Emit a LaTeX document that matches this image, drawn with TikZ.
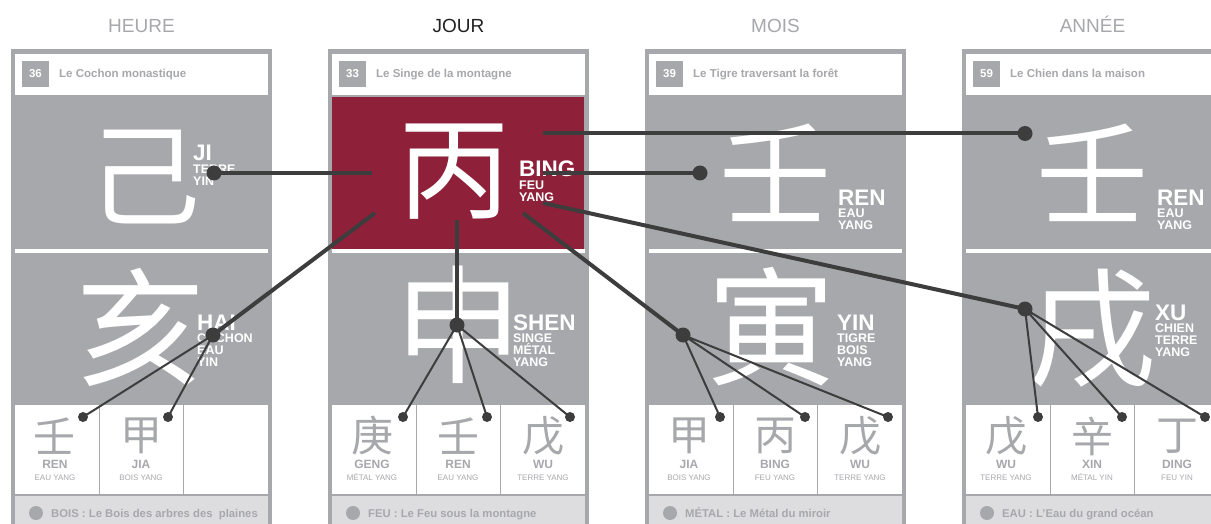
\documentclass[tikz,border=0pt]{standalone}
\usepackage{fontspec}
\setmainfont{Liberation Sans}
\newfontfamily\cjk{Noto Sans CJK SC}
\definecolor{cardgray}{HTML}{A7A8AB}
\definecolor{crimson}{HTML}{8E2139}
\definecolor{conn}{HTML}{3D3D3D}
\definecolor{barbg}{HTML}{DDDDDF}
\definecolor{ink}{HTML}{222222}
\tikzset{
 coltitle/.style={font=\fontsize{19}{19}\selectfont, text=cardgray, anchor=base, inner sep=0},
 numtext/.style={font=\bfseries\fontsize{11.5}{11.5}\selectfont, text=white, anchor=base, inner sep=0},
 titletext/.style={font=\bfseries\fontsize{11.5}{11.5}\selectfont, text=cardgray, anchor=base west, inner sep=0},
 bartext/.style={font=\bfseries\fontsize{11.3}{11.3}\selectfont, text=cardgray, anchor=base west, inner sep=0},
 bigchar/.style={font=\cjk\fontsize{128}{128}\selectfont, text=white, inner sep=0},
 stemchar/.style={font=\cjk\fontsize{112}{112}\selectfont, text=white, inner sep=0},
 labbig/.style={font=\bfseries\fontsize{22.5}{22.5}\selectfont, text=white, anchor=base west, inner sep=0},
 labsub/.style={font=\bfseries\fontsize{12.5}{12.5}\selectfont, text=white, anchor=base west, inner sep=0},
 hidchar/.style={font=\cjk\fontsize{42}{42}\selectfont, text=cardgray, inner sep=0},
 hidname/.style={font=\bfseries\fontsize{12}{12}\selectfont, text=cardgray, anchor=base, inner sep=0},
 hidsub/.style={font=\fontsize{8}{8}\selectfont, text=cardgray, anchor=base, inner sep=0},
 mainline/.style={draw=conn, line width=4pt},
 hidline/.style={draw=conn, line width=2pt},
 bigdot/.style={circle, fill=conn, inner sep=0, minimum size=15pt},
 smalldot/.style={circle, fill=conn, inner sep=0, minimum size=10pt},
}
\newcommand\drawcard[5]{%
 \fill[cardgray] (#1,49) rectangle (#1+261,540);
 \fill[white] (#1+4,54) rectangle (#1+257,95);
 \fill[white] (#1+4,249) rectangle (#1+257,253);
 \fill[white] (#1+4,405) rectangle (#1+257,494);
 \fill[barbg] (#1+4,496) rectangle (#1+257,540);
 \draw[cardgray, line width=1.5pt] (#1+88.3,405) -- (#1+88.3,494) (#1+172.7,405) -- (#1+172.7,494);
 \fill[cardgray] (#1+11,61) rectangle (#1+38,87);
 \node[numtext] (#2num) at (#1+24.5,78) {#3};
 \node[titletext] (#2title) at (#1+48,78) {#4};
 \fill[cardgray] (#1+25,513) circle (7pt);
 \node[bartext] (#2bar) at (#1+40,517) {#5};
}
\newcommand\hid[5]{% name, cx, char, name, sub
 \node[hidchar] (#1c) at (#2,436) {#3};
 \node[hidname] (#1n) at (#2,468) {#4};
 \node[hidsub] (#1s) at (#2,480) {#5};
}
\newcommand\labthree[6]{%
 \node[labbig] (#1) at (#2,#3) {#4};
 \node[labsub] (#1b) at (#2,#3+12.3) {#5};
 \node[labsub] (#1c) at (#2,#3+24.6) {#6};
}
\newcommand\labfour[7]{%
 \labthree{#1}{#2}{#3}{#4}{#5}{#6}
 \node[labsub] (#1d) at (#2,#3+36.9) {#7};
}
\begin{document}
\begin{tikzpicture}[x=1pt,y=-1pt]
\useasboundingbox (0,0) rectangle (1211,524);
\clip (0,0) rectangle (1211,524);
\fill[white] (0,0) rectangle (1211,524);
% column titles
\node[coltitle] (tH) at (141.5,33) {HEURE};
\node[coltitle, text=ink] (tJ) at (458.5,33) {JOUR};
\node[coltitle] (tM) at (775.5,33) {MOIS};
\node[coltitle] (tA) at (1092.5,33) {ANNÉE};
% cards
\drawcard{11}{c1}{36}{Le Cochon monastique}{BOIS : Le Bois des arbres des~ plaines}
\drawcard{328}{c2}{33}{Le Singe de la montagne}{FEU : Le Feu sous la montagne}
\drawcard{645}{c3}{39}{Le Tigre traversant la forêt}{MÉTAL : Le Métal du miroir}
\drawcard{962}{c4}{59}{Le Chien dans la maison}{EAU : L’Eau du grand océan}
\fill[crimson] (332,97) rectangle (584,249);
% big characters
\node[stemchar] (s1) at (144,177) {己};
\node[stemchar] (s2) at (454,172) {丙};
\node[stemchar] (s3) at (775,173) {壬};
\node[stemchar] (s4) at (1092,173) {壬};
\node[bigchar] (b1) at (140,327) {亥};
\node[bigchar] (b2) at (458,325) {申};
\node[bigchar] (b3) at (771,327) {寅};
\node[bigchar] (b4) at (1092,329) {戌};
% labels
\labthree{lJI}{193}{161}{JI}{TERRE}{YIN}
\labthree{lBING}{519}{177}{BING}{FEU}{YANG}
\labthree{lREN3}{838}{205}{REN}{EAU}{YANG}
\labthree{lREN4}{1157}{205}{REN}{EAU}{YANG}
\labfour{lHAI}{197}{330}{HAI}{COCHON}{EAU}{YIN}
\labfour{lSHEN}{513}{330}{SHEN}{SINGE}{MÉTAL}{YANG}
\labfour{lYIN}{837}{330}{YIN}{TIGRE}{BOIS}{YANG}
\labfour{lXU}{1155}{320}{XU}{CHIEN}{TERRE}{YANG}
% hidden stems
\hid{h1a}{55}{壬}{REN}{EAU YANG}
\hid{h1b}{141}{甲}{JIA}{BOIS YANG}
\hid{h2a}{372}{庚}{GENG}{MÉTAL YANG}
\hid{h2b}{458}{壬}{REN}{EAU YANG}
\hid{h2c}{543}{戊}{WU}{TERRE YANG}
\hid{h3a}{689}{甲}{JIA}{BOIS YANG}
\hid{h3b}{775}{丙}{BING}{FEU YANG}
\hid{h3c}{860}{戊}{WU}{TERRE YANG}
\hid{h4a}{1006}{戊}{WU}{TERRE YANG}
\hid{h4b}{1092}{辛}{XIN}{MÉTAL YIN}
\hid{h4c}{1177}{丁}{DING}{FEU YIN}
% connector points
\coordinate (eL) at (372,173);
\coordinate (eLL) at (375,213);
\coordinate (eB) at (457,220);
\coordinate (eRT) at (543,133.5);
\coordinate (eR) at (543,173);
\coordinate (eRY) at (543,203);
\coordinate (eRB) at (523,213);
\coordinate (pJI) at (214,173);
\coordinate (pHAI) at (213,335);
\coordinate (pSHEN) at (457,325);
\coordinate (pREN3) at (700,173);
\coordinate (pREN4) at (1025,133.5);
\coordinate (pYIN) at (683,335);
\coordinate (pXU) at (1025,309);
\coordinate (q1a) at (83,417);
\coordinate (q1b) at (168,417);
\coordinate (q2a) at (403,417);
\coordinate (q2b) at (487,417);
\coordinate (q2c) at (570,417);
\coordinate (q3a) at (720,417);
\coordinate (q3b) at (805,417);
\coordinate (q3c) at (888,417);
\coordinate (q4a) at (1038,417);
\coordinate (q4b) at (1122,417);
\coordinate (q4c) at (1205,417);
% hidden-stem connectors
\draw[hidline] (pHAI) -- (q1a) (pHAI) -- (q1b);
\draw[hidline] (pSHEN) -- (q2a) (pSHEN) -- (q2b) (pSHEN) -- (q2c);
\draw[hidline] (pYIN) -- (q3a) (pYIN) -- (q3b) (pYIN) -- (q3c);
\draw[hidline] (pXU) -- (q4a) (pXU) -- (q4b) (pXU) -- (q4c);
% main connectors
\draw[mainline] (eL) -- (pJI);
\draw[mainline] (eLL) -- (pHAI);
\draw[mainline] (eB) -- (pSHEN);
\draw[mainline] (eRT) -- (pREN4);
\draw[mainline] (eR) -- (pREN3);
\draw[mainline] (eRY) -- (pXU);
\draw[mainline] (eRB) -- (pYIN);
% dots
\foreach \p in {pJI,pHAI,pSHEN,pREN3,pREN4,pYIN,pXU} \node[bigdot] (d\p) at (\p) {};
\foreach \p in {q1a,q1b,q2a,q2b,q2c,q3a,q3b,q3c,q4a,q4b,q4c} \node[smalldot] (d\p) at (\p) {};
\end{tikzpicture}
\end{document}
